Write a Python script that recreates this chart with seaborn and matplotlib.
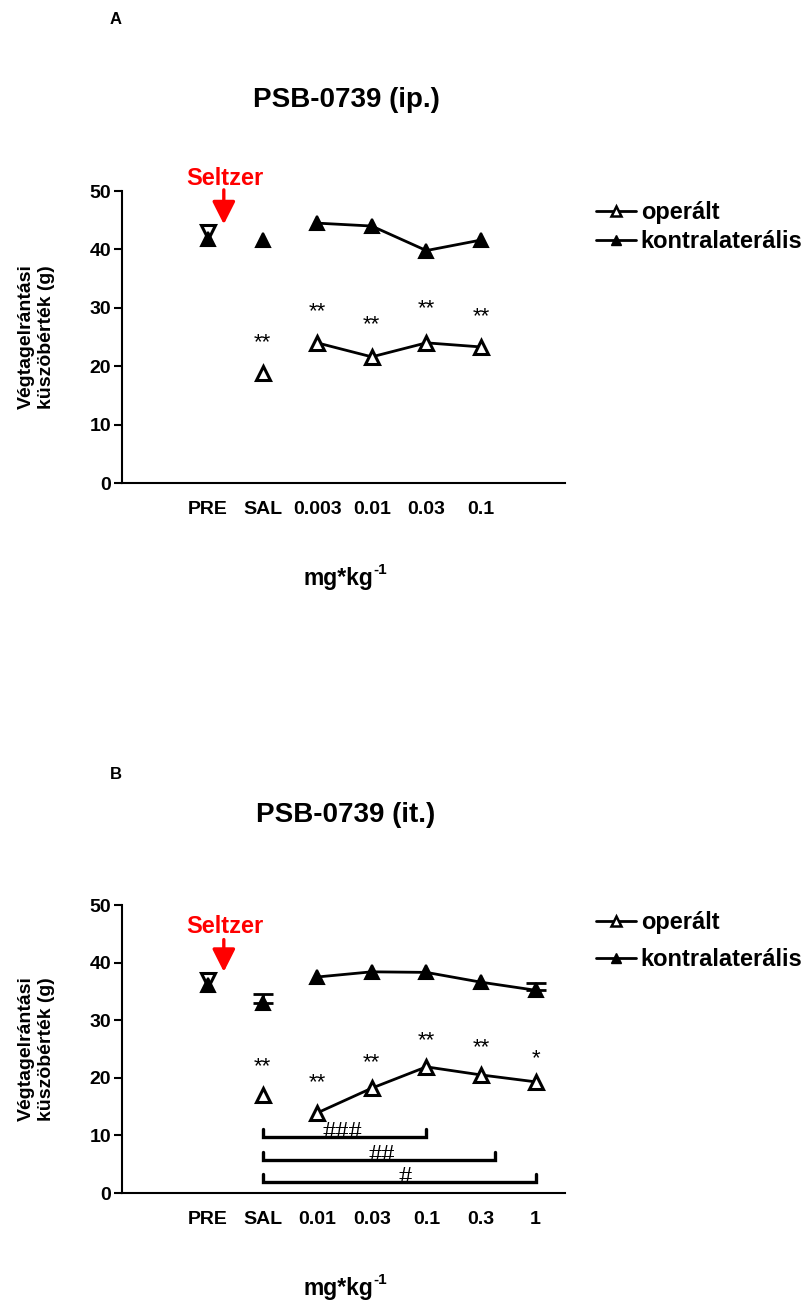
import numpy as np
import pandas as pd
import matplotlib
matplotlib.use("Agg")
import matplotlib.pyplot as plt
from matplotlib.lines import Line2D
import seaborn as sns

# ---------------- data ----------------
cats_A = ["PRE", "SAL", "0.003", "0.01", "0.03", "0.1"]
oper_A = [42.9, 18.8, 24.0, 21.6, 24.0, 23.3]
kontra_A = [41.7, 41.6, 44.5, 44.0, 39.8, 41.6]
kontra_err_A = [0, 0, 0, 0, 0, 0]
stars_A = ["", "**", "**", "**", "**", "**"]
star_y_A = [0, 24.0, 29.3, 27.1, 29.8, 28.4]

cats_B = ["PRE", "SAL", "0.01", "0.03", "0.1", "0.3", "1"]
oper_B = [37.0, 17.0, 13.9, 18.2, 21.9, 20.5, 19.3]
kontra_B = [36.1, 33.0, 37.5, 38.4, 38.3, 36.6, 35.2]
kontra_err_B = [0, 1.5, 0, 0, 0, 0, 1.2]
stars_B = ["", "**", "**", "**", "**", "**", "*"]
star_y_B = [0, 22.0, 19.1, 22.7, 26.4, 25.3, 23.4]

# significance brackets (B): start, end, level, label
br_start = [1, 1, 1]
br_end = [4, 5.26, 6]
br_level = [9.7, 5.7, 1.9]
br_label = ["###", "##", "#"]
br_text_x = [2.46, 3.19, 3.61]

legend_labels = ["operált", "kontralaterális"]
ylabel = "Végtagelrántási\nküszöbérték (g)"

sns.set_theme(style="ticks")
plt.rcParams["font.family"] = ["Liberation Sans", "DejaVu Sans"]
for k in ["text.color", "axes.labelcolor", "xtick.color", "ytick.color", "axes.edgecolor"]:
    plt.rcParams[k] = "black"

fig = plt.figure(figsize=(8.06, 13.04), dpi=100)

W = 806.0
H = 1304.0


def fx(px):
    return px / W


def fy(py):
    return 1 - py / H


def make_axes(x0, x1, ytop, ybot):
    return fig.add_axes([x0 / W, 1 - ybot / H, (x1 - x0) / W, (ybot - ytop) / H])


def draw_panel(ax, cats, oper, kontra, kerr, stars, star_y, selt_y, arr_top, arr_bot):
    n = len(cats)
    x = np.arange(n)
    df_o = pd.DataFrame({"x": x[2:], "y": oper[2:]})
    df_k = pd.DataFrame({"x": x[2:], "y": kontra[2:]})
    lw = 2.0
    ms = 10
    sns.lineplot(data=df_k, x="x", y="y", ax=ax, color="black", lw=lw, marker="^",
                 markersize=ms, markerfacecolor="black", markeredgecolor="black",
                 markeredgewidth=1.5, clip_on=False, zorder=3)
    sns.lineplot(data=df_o, x="x", y="y", ax=ax, color="black", lw=lw, marker="^",
                 markersize=ms, markerfacecolor="white", markeredgecolor="black",
                 markeredgewidth=2.2, clip_on=False, zorder=3)
    errs = np.array(kerr)
    mask = errs > 0
    if mask.any():
        ax.errorbar(x[mask], np.array(kontra)[mask], yerr=[np.zeros(mask.sum()), errs[mask]],
                    fmt="none", ecolor="black", elinewidth=2, capsize=7, capthick=2, zorder=2)
    ax.plot([x[0]], [oper[0]], marker="v", ms=ms, mfc="white", mec="black", mew=2.2,
            ls="none", zorder=4, clip_on=False)
    ax.plot([x[0]], [kontra[0]], marker="^", ms=ms, mfc="black", mec="black", mew=1.5,
            ls="none", zorder=5, clip_on=False)
    ax.plot([x[1]], [oper[1]], marker="^", ms=ms, mfc="white", mec="black", mew=2.2,
            ls="none", zorder=4, clip_on=False)
    ax.plot([x[1]], [kontra[1]], marker="^", ms=ms, mfc="black", mec="black", mew=1.5,
            ls="none", zorder=4, clip_on=False)
    for xi, s, sy in zip(x, stars, star_y):
        if s:
            ax.text(xi, sy, s, ha="center", va="center", fontsize=16, color="black")
    ax.set_xlim(-1.575, 6.54)
    ax.set_ylim(0, 50)
    ax.set_xticks(x)
    ax.set_xticklabels(cats, fontsize=14, fontweight="bold")
    ax.set_yticks([0, 10, 20, 30, 40, 50])
    ax.set_yticklabels(["0", "10", "20", "30", "40", "50"], fontsize=14, fontweight="bold")
    ax.tick_params(axis="x", length=0, pad=13)
    ax.tick_params(axis="y", length=6, width=1.5, pad=2, direction="out")
    for sp in ["top", "right"]:
        ax.spines[sp].set_visible(False)
    for sp in ["left", "bottom"]:
        ax.spines[sp].set_linewidth(1.5)
        ax.spines[sp].set_color("black")
    ax.set_xlabel("")
    ax.set_ylabel(ylabel, fontsize=14, fontweight="bold", linespacing=1.25, va="center")
    ax.yaxis.set_label_coords((36 - 122) / 443, 0.5)
    ax.annotate("", xy=(0.29, arr_bot), xytext=(0.29, arr_top),
                arrowprops=dict(arrowstyle="-|>,head_length=1.15,head_width=0.58", color="#ff0000",
                                lw=2.4, shrinkA=0, shrinkB=0),
                annotation_clip=False)
    ax.text(0.31, selt_y, "Seltzer", color="#ff0000", fontsize=17,
            fontweight="bold", ha="center", va="center", clip_on=False)
    handles = [Line2D([0], [0], color="black", lw=2, marker="^", ms=7, mfc="white", mec="black", mew=1.8),
               Line2D([0], [0], color="black", lw=2, marker="^", ms=7, mfc="black", mec="black")]
    return handles


def panel_texts(letter, letter_y, title, title_y, xl_y, leg_y, leg_sp, handles):
    fig.text(fx(116), fy(letter_y), letter, fontsize=12, fontweight="bold", ha="center", va="center")
    fig.text(fx(346), fy(title_y), title, fontsize=20, fontweight="bold", ha="center", va="center")
    fig.text(fx(373), fy(xl_y), "mg*kg", fontsize=16.5, fontweight="bold", ha="right", va="baseline")
    fig.text(fx(373), fy(xl_y - 11), "-1", fontsize=11, fontweight="bold", ha="left", va="baseline")
    fig.legend(handles, legend_labels, loc="upper left",
               bbox_to_anchor=(fx(596), fy(leg_y)), frameon=False,
               prop=dict(size=17, weight="bold"), handlelength=1.7, handletextpad=0.2,
               labelspacing=leg_sp, borderaxespad=0, borderpad=0)


# Panel A
axA = make_axes(122, 565, 191, 483)
hA = draw_panel(axA, cats_A, oper_A, kontra_A, kontra_err_A, stars_A, star_y_A,
                52.2, 50.2, 44.3)
panel_texts("A", 19, "PSB-0739 (ip.)", 100, 585, 201, 0.25, hA)

# Panel B
axB = make_axes(122, 565, 905, 1193)
hB = draw_panel(axB, cats_B, oper_B, kontra_B, kontra_err_B, stars_B, star_y_B,
                46.2, 44.0, 38.4)
for s0, s1, lv, lab, tx in zip(br_start, br_end, br_level, br_label, br_text_x):
    axB.plot([s0, s0, s1, s1], [lv + 1.4, lv, lv, lv + 1.4], color="black", lw=2.4,
             solid_joinstyle="miter", zorder=2)
    axB.text(tx, lv + 0.7, lab, fontsize=19, family=["Liberation Serif", "DejaVu Serif"],
             ha="center", va="center", zorder=3)
panel_texts("B", 775, "PSB-0739 (it.)", 815, 1295, 911, 0.6, hB)

fig.savefig("out.png", dpi=100)
